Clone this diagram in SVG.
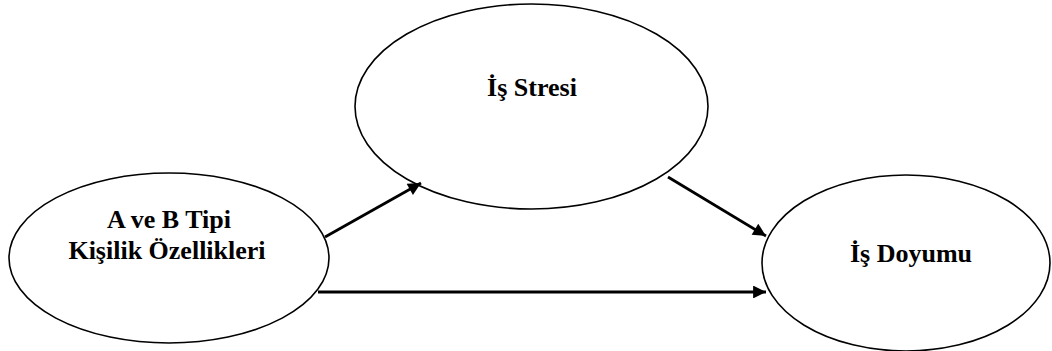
<svg xmlns="http://www.w3.org/2000/svg" width="1052" height="351" viewBox="0 0 1052 351">
<style>
.node{fill:#fff;stroke:#000;stroke-width:1.6}
.lbl{font-family:"Liberation Serif","Times New Roman",serif;font-weight:bold;font-size:26px;fill:#000;text-anchor:middle}
.conn{stroke:#000;stroke-width:2.8;fill:none;marker-end:url(#ah)}
</style>
<defs>
<marker id="ah" viewBox="0 0 10 10" refX="10" refY="5" markerWidth="5.5" markerHeight="4.6" orient="auto" markerUnits="strokeWidth">
<path d="M0,0 L10,5 L0,10 Z" fill="#000"/>
</marker>
</defs>
<g id="node-kisilik">
<ellipse class="node" cx="169" cy="258" rx="160" ry="85"/>
<text class="lbl" x="169" y="228">A ve B Tipi</text>
<text class="lbl" x="167" y="259">Kişilik Özellikleri</text>
</g>
<g id="node-stres">
<ellipse class="node" cx="531.5" cy="106.5" rx="176.5" ry="102.5"/>
<text class="lbl" x="532" y="96">İş Stresi</text>
</g>
<g id="node-doyum">
<ellipse class="node" cx="906" cy="263" rx="144" ry="88"/>
<text class="lbl" x="911" y="262">İş Doyumu</text>
</g>
<g id="connectors">
<line class="conn" x1="325" y1="237" x2="421" y2="183"/>
<line class="conn" x1="668" y1="177" x2="766" y2="236"/>
<line class="conn" x1="318" y1="292" x2="766" y2="292"/>
</g>
</svg>
